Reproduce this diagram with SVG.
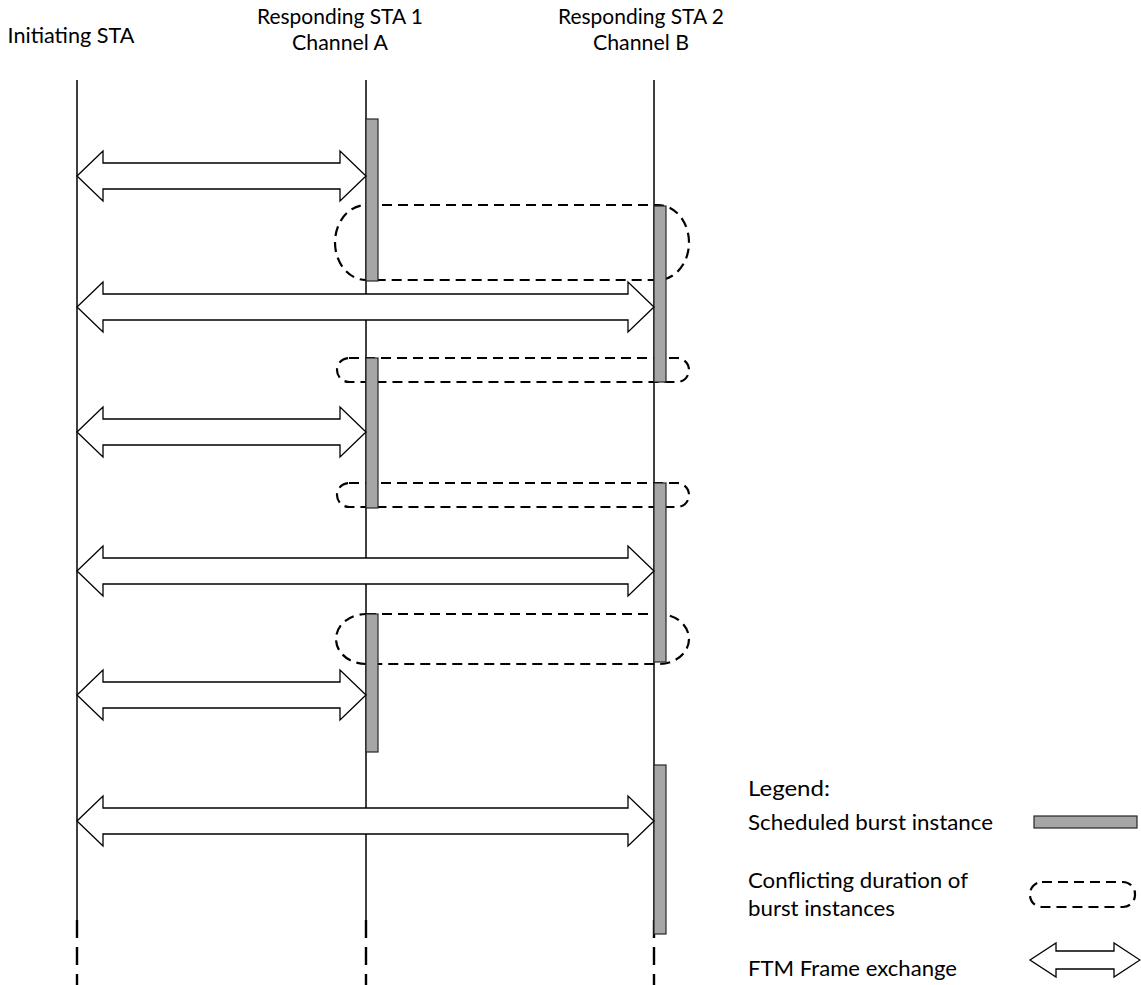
<svg xmlns="http://www.w3.org/2000/svg" width="1141" height="985" viewBox="0 0 1141 985">
<style>
text{font-family:Lato,"Open Sans","Liberation Sans",sans-serif;font-size:21px;fill:#000}
.life{stroke:#000;stroke-width:1.5;fill:none}
.tail{stroke:#000;stroke-width:2.4;fill:none;stroke-dasharray:18 9}
.burst{fill:#a6a6a6;stroke:#262626;stroke-width:1.2}
.conflict{fill:none;stroke:#000;stroke-width:2.2;stroke-dasharray:10 6}
.ftm{fill:#fff;stroke:#000;stroke-width:1.3;stroke-linejoin:miter}
</style>
<rect width="1141" height="985" fill="#fff"/>
<g id="initiating-sta">
<text x="71" y="43" text-anchor="middle" textLength="127" lengthAdjust="spacingAndGlyphs">Initiating STA</text>
<line class="life" x1="77" y1="80" x2="77" y2="920"/>
<line class="tail" x1="77" y1="920" x2="77" y2="985"/>
</g>
<g id="responding-sta-1">
<text x="340" y="24" text-anchor="middle" textLength="166" lengthAdjust="spacingAndGlyphs">Responding STA 1</text>
<text x="340" y="50" text-anchor="middle" textLength="96" lengthAdjust="spacingAndGlyphs">Channel A</text>
<line class="life" x1="366" y1="80" x2="366" y2="920"/>
<line class="tail" x1="366" y1="920" x2="366" y2="985"/>
</g>
<g id="responding-sta-2">
<text x="641" y="24" text-anchor="middle" textLength="166" lengthAdjust="spacingAndGlyphs">Responding STA 2</text>
<text x="641" y="50" text-anchor="middle" textLength="96" lengthAdjust="spacingAndGlyphs">Channel B</text>
<line class="life" x1="654" y1="80" x2="654" y2="920"/>
<line class="tail" x1="654" y1="920" x2="654" y2="985"/>
</g>
<g id="conflicts">
<rect id="conflict-1" class="conflict" x="335" y="205" width="354" height="75" rx="31" ry="37.5"/>
<rect id="conflict-2" class="conflict" x="337" y="358" width="352" height="24" rx="12" ry="12"/>
<rect id="conflict-3" class="conflict" x="337" y="483" width="352" height="24" rx="12" ry="12"/>
<rect id="conflict-4" class="conflict" x="336" y="614" width="353" height="50" rx="30" ry="25"/>
</g>
<g id="bursts">
<rect id="burst-a1" class="burst" x="366" y="119" width="12" height="162"/>
<rect id="burst-a2" class="burst" x="366" y="358" width="12" height="150"/>
<rect id="burst-a3" class="burst" x="366" y="614" width="12" height="138"/>
<rect id="burst-b1" class="burst" x="654" y="206" width="12" height="176"/>
<rect id="burst-b2" class="burst" x="654" y="483" width="12" height="179"/>
<rect id="burst-b3" class="burst" x="654" y="765" width="12" height="169"/>
</g>
<g id="connectors">
<path class="ftm" d="M77,176 L103,151 L103,163 L340,163 L340,151 L366,176 L340,201 L340,189 L103,189 L103,201 Z"/>
<path class="ftm" d="M77,307 L103,282 L103,294 L628,294 L628,282 L654,307 L628,332 L628,320 L103,320 L103,332 Z"/>
<path class="ftm" d="M77,432 L103,407 L103,419 L340,419 L340,407 L366,432 L340,457 L340,445 L103,445 L103,457 Z"/>
<path class="ftm" d="M77,571 L103,546 L103,558 L628,558 L628,546 L654,571 L628,596 L628,584 L103,584 L103,596 Z"/>
<path class="ftm" d="M77,695 L103,670 L103,682 L340,682 L340,670 L366,695 L340,720 L340,708 L103,708 L103,720 Z"/>
<path class="ftm" d="M77,821 L103,796 L103,808 L628,808 L628,796 L654,821 L628,846 L628,834 L103,834 L103,846 Z"/>
</g>
<g id="legend">
<text x="748" y="796" textLength="82" lengthAdjust="spacingAndGlyphs">Legend:</text>
<text x="748" y="830" textLength="245" lengthAdjust="spacingAndGlyphs">Scheduled burst instance</text>
<rect class="burst" x="1034" y="816" width="103" height="12"/>
<text x="748" y="888" textLength="220" lengthAdjust="spacingAndGlyphs">Conflicting duration of</text>
<text x="748" y="916" textLength="147" lengthAdjust="spacingAndGlyphs">burst instances</text>
<rect class="conflict" x="1030" y="882" width="105" height="25" rx="12" ry="12"/>
<text x="748" y="976" textLength="209" lengthAdjust="spacingAndGlyphs">FTM Frame exchange</text>
<path class="ftm" d="M1030,960 L1056,943 L1056,951 L1114,951 L1114,943 L1140,960 L1114,977 L1114,969 L1056,969 L1056,977 Z"/>
</g>
</svg>
